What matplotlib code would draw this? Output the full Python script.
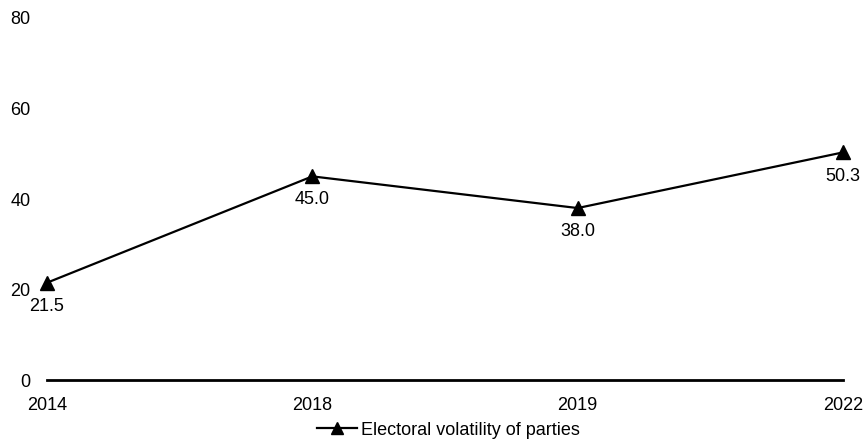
import matplotlib
matplotlib.use("Agg")
import matplotlib.pyplot as plt

years = ["2014", "2018", "2019", "2022"]
volatility = [21.5, 45.0, 38.0, 50.3]
series_name = "Electoral volatility of parties"
y_ticks = [0, 20, 40, 60, 80]

plt.rcParams["font.family"] = ["Liberation Sans", "DejaVu Sans"]

fig = plt.figure(figsize=(8.66, 4.44), dpi=100)
ax = fig.add_axes([47 / 866, 1 - 380 / 444, (843 - 47) / 866, (380 - 18) / 444])

x = list(range(len(years)))
ax.plot(x, volatility, color="black", linewidth=1.6, marker="^", markersize=10,
        label=series_name, clip_on=False, zorder=3)

for xi, v in zip(x, volatility):
    ax.annotate(f"{v:.1f}", (xi, v), xytext=(0, -17), textcoords="offset points",
                ha="center", va="center", fontsize=13)

ax.set_xlim(0, len(years) - 1)
ax.set_ylim(0, 80)
ax.set_xticks(x)
ax.set_xticklabels(years, fontsize=13)
ax.set_yticks(y_ticks)
ax.set_yticklabels([str(t) for t in y_ticks], fontsize=13)
ax.tick_params(axis="both", length=0)
ax.tick_params(axis="x", pad=12)
ax.tick_params(axis="y", pad=12)

for side in ["top", "right", "left"]:
    ax.spines[side].set_visible(False)
ax.spines["bottom"].set_linewidth(2)

leg = fig.legend(loc="center", bbox_to_anchor=(0.518, 1 - 430 / 444), frameon=False,
                 fontsize=13, handlelength=2.2, handletextpad=0.2, markerscale=0.85)

fig.savefig("out.png", dpi=100)
